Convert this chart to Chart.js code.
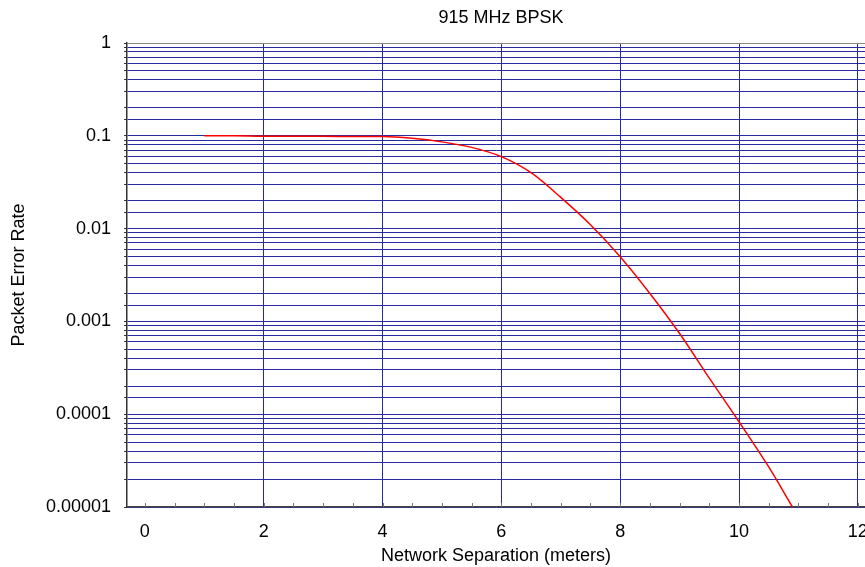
<!DOCTYPE html>
<html>
<head>
<meta charset="utf-8">
<script src="https://cdn.jsdelivr.net/npm/chart.js@4.4.0/dist/chart.umd.min.js"></script>
<style>
  html, body { margin: 0; padding: 0; background: #fff; }
  #wrap { width: 865px; height: 567px; }
</style>
</head>
<body>
<div id="wrap"><canvas id="myChart" width="865" height="567"></canvas></div>
<script>
// distancia (m) y tasa de error de paquete
const separacion = [1, 1.5, 2, 2.5, 3, 3.5, 4, 4.5, 5, 5.5, 6, 6.5, 7, 7.5, 8, 8.5, 9, 9.5, 10, 10.5, 10.9];
const errorPaquete = [0.1, 0.1, 0.099, 0.099, 0.099, 0.098, 0.098, 0.094, 0.086, 0.075, 0.0596, 0.04, 0.0217, 0.011,
  0.00498, 0.002, 0.00074, 0.000245, 0.000083, 0.000027, 0.00001];

const xTicksLabels = [0, 2, 4, 6, 8, 10, 12];
const yTickValues = [1, 0.1, 0.01, 0.001, 0.0001, 0.00001];
const yTickLabels = ['1', '0.1', '0.01', '0.001', '0.0001', '0.00001'];

const AZUL = '#2a2aa0';
const FUENTE = "'Liberation Sans', Arial, sans-serif";

var puntos = separacion.map((x, i) => ({ x: x, y: errorPaquete[i] }));

function esPotencia(v) {
    var l = Math.log10(v);
    return Math.abs(l - Math.round(l)) < 1e-6;
}

// titulo y marcas menores del eje x
const extras = {
    id: 'extras',
    afterDatasetsDraw(chart) {
        var ctx = chart.ctx;
        var xs = chart.scales.x;
        var area = chart.chartArea;
        ctx.save();
        ctx.strokeStyle = '#777';
        ctx.lineWidth = 1;
        for (var v = 0; v <= 12; v += 0.5) {
            var px = Math.round(xs.getPixelForValue(v)) + 0.5;
            if (px > area.right) continue;
            ctx.beginPath();
            ctx.moveTo(px, area.bottom);
            ctx.lineTo(px, area.bottom - 4);
            ctx.stroke();
        }
        ctx.fillStyle = '#000';
        ctx.font = '18px ' + FUENTE;
        ctx.textAlign = 'center';
        ctx.textBaseline = 'middle';
        ctx.fillText('915 MHz BPSK', 501, 18);
        ctx.restore();
    }
};

var ctx = document.getElementById('myChart').getContext('2d');
var myChart = new Chart(ctx, {
    type: 'line',
    data: {
        datasets: [{
            label: 'PER',
            data: puntos,
            borderColor: '#ff0000',
            borderWidth: 1.5,
            pointRadius: 0,
            fill: false,
            cubicInterpolationMode: 'monotone'
        }]
    },
    options: {
        responsive: false,
        animation: false,
        layout: { padding: { top: 43, right: 0, bottom: 0, left: 0 }, autoPadding: false },
        plugins: {
            legend: { display: false },
            tooltip: { enabled: false },
            title: { display: false }
        },
        scales: {
            x: {
                type: 'linear',
                min: -0.3,
                max: 12.12,
                afterBuildTicks(scale) {
                    scale.ticks = xTicksLabels.map((v) => ({ value: v }));
                },
                afterFit(scale) {
                    scale.height = 60;
                    scale.paddingLeft = 0;
                    scale.paddingRight = 0;
                },
                ticks: {
                    autoSkip: false,
                    maxRotation: 0,
                    padding: 14,
                    color: '#000',
                    font: { family: FUENTE, size: 18 },
                    callback: function (v) { return String(v); }
                },
                grid: {
                    drawTicks: false,
                    lineWidth: 1,
                    color: function (c) {
                        var v = c.tick ? c.tick.value : null;
                        return (v !== null && v !== 0) ? AZUL : 'rgba(0,0,0,0)';
                    }
                },
                border: { color: '#444', width: 1.5 },
                title: {
                    display: true,
                    text: 'Network Separation (meters)',
                    color: '#000',
                    font: { family: FUENTE, size: 18 },
                    padding: { top: 0, bottom: 0 }
                }
            },
            y: {
                type: 'logarithmic',
                min: 0.00001,
                max: 1,
                afterFit(scale) {
                    scale.width = 127;
                    scale.paddingTop = 0;
                    scale.paddingBottom = 0;
                },
                ticks: {
                    autoSkip: false,
                    padding: 13,
                    color: '#000',
                    font: { family: FUENTE, size: 18 },
                    callback: function (v) {
                        if (!esPotencia(v)) return '';
                        var i = yTickValues.findIndex((t) => Math.abs(Math.log10(t) - Math.log10(v)) < 1e-6);
                        return i >= 0 ? yTickLabels[i] : '';
                    }
                },
                grid: {
                    lineWidth: 1,
                    tickLength: 3,
                    tickColor: '#333',
                    color: function (c) {
                        var v = c.tick ? c.tick.value : null;
                        if (v !== null && Math.abs(v - 1) < 1e-9) return '#8c8c8c';
                        return AZUL;
                    }
                },
                border: { color: '#333', width: 1.5 },
                title: {
                    display: true,
                    text: 'Packet Error Rate',
                    color: '#000',
                    font: { family: FUENTE, size: 18 },
                    padding: { top: 8, bottom: 0 }
                }
            }
        }
    },
    plugins: [extras]
});
</script>
</body>
</html>
